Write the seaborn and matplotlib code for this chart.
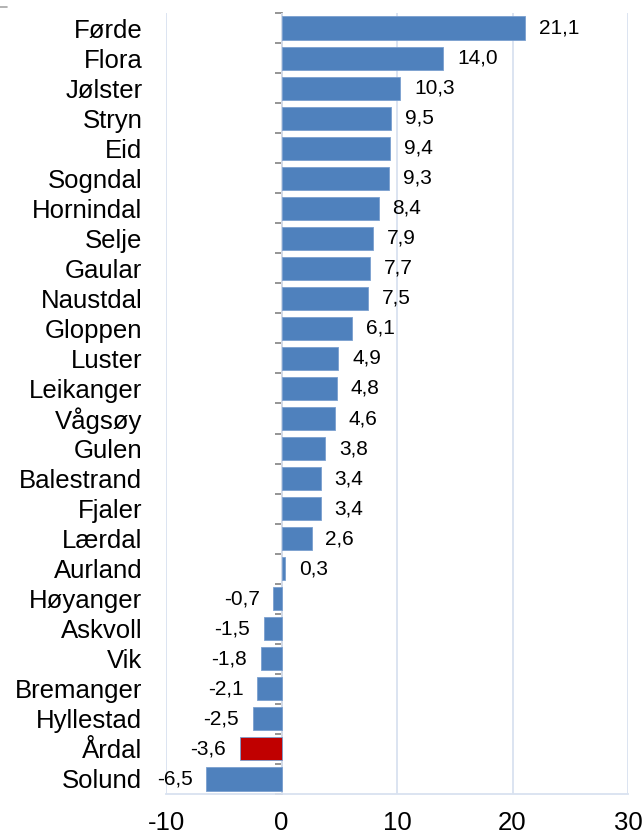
import matplotlib
matplotlib.use("Agg")
import matplotlib.pyplot as plt
from matplotlib.lines import Line2D
import seaborn as sns
import pandas as pd

kommuner = ["Førde", "Flora", "Jølster", "Stryn", "Eid", "Sogndal", "Hornindal",
            "Selje", "Gaular", "Naustdal", "Gloppen", "Luster", "Leikanger",
            "Vågsøy", "Gulen", "Balestrand", "Fjaler", "Lærdal", "Aurland",
            "Høyanger", "Askvoll", "Vik", "Bremanger", "Hyllestad", "Årdal", "Solund"]
endring = [21.1, 14.0, 10.3, 9.5, 9.4, 9.3, 8.4, 7.9, 7.7, 7.5, 6.1, 4.9, 4.8,
           4.6, 3.8, 3.4, 3.4, 2.6, 0.3, -0.7, -1.5, -1.8, -2.1, -2.5, -3.6, -6.5]
utheva = "Årdal"
x_ticks = [-10, 0, 10, 20, 30]

BLUE = "#4F81BD"
RED = "#C00000"
GRID = "#D9E2F0"
ZERO = "#8C8C8C"

df = pd.DataFrame({"Kommune": kommuner, "Endring": endring})
palette = {k: (RED if k == utheva else BLUE) for k in kommuner}

sns.set_style("white")
plt.rcParams["font.family"] = ["Liberation Sans", "DejaVu Sans"]
plt.rcParams["axes.unicode_minus"] = False
plt.rcParams["text.color"] = "black"
plt.rcParams["xtick.labelcolor"] = "black"
plt.rcParams["ytick.labelcolor"] = "black"

fig = plt.figure(figsize=(6.44, 8.34), dpi=100)
ax = fig.add_axes([0.2578, 0.048, 0.9752 - 0.2578, 0.9844 - 0.048])

sns.barplot(data=df, x="Endring", y="Kommune", hue="Kommune", palette=palette,
            orient="h", width=0.77, legend=False, ax=ax,
            edgecolor="#7A9FCF", linewidth=0.6, saturation=1)

ax.set_xlim(x_ticks[0], x_ticks[-1])
ax.set_ylim(len(kommuner) - 0.5, -0.5)
ax.set_xticks(x_ticks)
ax.set_xticklabels([str(t) for t in x_ticks], fontsize=18.5)
ax.set_xlabel("")
ax.set_ylabel("")

# vertical gridlines and light bottom axis
ax.grid(axis="x", color=GRID, linewidth=1.3)
ax.set_axisbelow(True)
for side in ["top", "right", "left"]:
    ax.spines[side].set_visible(False)
ax.spines["bottom"].set_color(GRID)
ax.spines["bottom"].set_linewidth(1.3)
ax.tick_params(axis="x", length=6, width=1.3, color=GRID, pad=6)
ax.tick_params(axis="y", length=0, pad=17, labelsize=18.5)

# zero line with category separator ticks
x0, x1 = ax.get_xlim()
zero_ax = ax.secondary_yaxis((0 - x0) / (x1 - x0))
zero_ax.set_yticks([i - 0.5 for i in range(len(kommuner) + 1)])
zero_ax.set_yticklabels([])
zero_ax.spines["left"].set_color(ZERO)
zero_ax.spines["left"].set_linewidth(1.3)
zero_ax.tick_params(axis="y", length=5, width=1.3, color=ZERO, direction="out")

for cont in ax.containers:
    ax.bar_label(cont, fmt=lambda v: f"{v:.1f}".replace(".", ","),
                 padding=10, fontsize=15)

fig.add_artist(Line2D([0, 0.011], [0.9916, 0.9916], color="#A6A6A6", lw=1.2,
                      transform=fig.transFigure))

fig.savefig("out.png", dpi=100)
